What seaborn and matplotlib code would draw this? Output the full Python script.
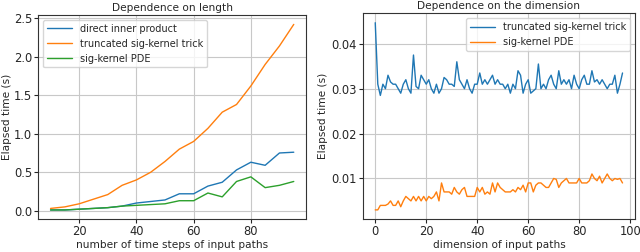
import numpy as np
import pandas as pd
import matplotlib.pyplot as plt
import seaborn as sns

# --- datos ---
steps = [10, 15, 20, 25, 30, 35, 40, 45, 50, 55, 60, 65, 70, 75, 80, 85, 90, 95]
t_direct = [0.01, 0.01, 0.02, 0.03, 0.04, 0.06, 0.10, 0.12, 0.14, 0.22, 0.22, 0.32,
            0.37, 0.53, 0.63, 0.59, 0.75, 0.76]
t_trunc_len = [0.03, 0.05, 0.09, 0.15, 0.21, 0.33, 0.40, 0.50, 0.64, 0.80, 0.90, 1.07,
               1.28, 1.38, 1.62, 1.90, 2.14, 2.42]
t_pde_len = [0.01, 0.01, 0.02, 0.03, 0.04, 0.06, 0.07, 0.08, 0.09, 0.13, 0.13, 0.23,
             0.18, 0.38, 0.44, 0.30, 0.33, 0.38]

dims = list(range(98))
t_trunc_dim = [0.0447, 0.031, 0.0285, 0.031, 0.030, 0.033, 0.0315, 0.031, 0.031, 0.030,
               0.029, 0.031, 0.032, 0.030, 0.029, 0.0375, 0.0305, 0.030, 0.033, 0.032,
               0.031, 0.032, 0.030, 0.029, 0.031, 0.029, 0.030, 0.0325, 0.032, 0.031,
               0.031, 0.0305, 0.036, 0.032, 0.031, 0.030, 0.032, 0.030, 0.029, 0.031,
               0.031, 0.0335, 0.031, 0.032, 0.031, 0.032, 0.033, 0.031, 0.032, 0.031,
               0.031, 0.030, 0.031, 0.029, 0.031, 0.030, 0.034, 0.033, 0.029, 0.031,
               0.032, 0.029, 0.0295, 0.030, 0.0355, 0.030, 0.031, 0.030, 0.032, 0.033,
               0.031, 0.030, 0.034, 0.031, 0.032, 0.031, 0.032, 0.030, 0.033, 0.031,
               0.030, 0.032, 0.033, 0.031, 0.031, 0.034, 0.0315, 0.032, 0.031, 0.032,
               0.031, 0.030, 0.031, 0.031, 0.033, 0.029, 0.031, 0.0335]
t_pde_dim = [0.003, 0.003, 0.004, 0.004, 0.004, 0.0043, 0.005, 0.004, 0.004, 0.005,
             0.0037, 0.005, 0.006, 0.0055, 0.005, 0.006, 0.005, 0.006, 0.005, 0.006,
             0.005, 0.006, 0.0055, 0.006, 0.007, 0.005, 0.009, 0.007, 0.007, 0.007,
             0.0065, 0.008, 0.007, 0.0065, 0.0075, 0.008, 0.006, 0.006, 0.006, 0.006,
             0.008, 0.007, 0.008, 0.0065, 0.007, 0.0065, 0.009, 0.007, 0.009, 0.008,
             0.0075, 0.007, 0.007, 0.007, 0.0075, 0.007, 0.008, 0.0075, 0.0085, 0.007,
             0.009, 0.009, 0.007, 0.0085, 0.009, 0.009, 0.0085, 0.008, 0.008, 0.009,
             0.010, 0.0098, 0.008, 0.009, 0.0095, 0.010, 0.009, 0.009, 0.009, 0.009,
             0.010, 0.009, 0.009, 0.009, 0.0095, 0.011, 0.010, 0.0095, 0.0105, 0.009,
             0.010, 0.011, 0.010, 0.0095, 0.010, 0.0098, 0.010, 0.009]

# --- estilo ---
sns.set_style('ticks', {
    'axes.grid': True,
    'grid.color': '#c8c8c8',
    'grid.linewidth': 0.6,
    'axes.edgecolor': '#333333',
})
plt.rcParams.update({
    'font.family': ['DejaVu Sans'],
    'font.size': 7.6,
    'axes.titlesize': 7.6,
    'axes.labelsize': 7.6,
    'xtick.labelsize': 8.3,
    'ytick.labelsize': 8.3,
    'legend.fontsize': 7,
    'axes.linewidth': 0.8,
})

c_blue = plt.cm.tab10(0)
c_orange = plt.cm.tab10(1)
c_green = plt.cm.tab10(2)

fig = plt.figure(figsize=(6.4, 2.52), dpi=100)
ax1 = fig.add_axes([0.060, 0.130, 0.418, 0.810])
ax2 = fig.add_axes([0.567, 0.130, 0.425, 0.817])

df_len = pd.DataFrame({'x': steps, 'direct': t_direct,
                       'trunc': t_trunc_len, 'pde': t_pde_len})
sns.lineplot(data=df_len, x='x', y='direct', ax=ax1, color=c_blue,
             lw=1.0, label='direct inner product')
sns.lineplot(data=df_len, x='x', y='trunc', ax=ax1, color=c_orange,
             lw=1.0, label='truncated sig-kernel trick')
sns.lineplot(data=df_len, x='x', y='pde', ax=ax1, color=c_green,
             lw=1.0, label='sig-kernel PDE')
ax1.set_title('Dependence on length', pad=3)
ax1.set_xlabel('number of time steps of input paths', labelpad=1)
ax1.set_ylabel('Elapsed time (s)', labelpad=1)
ax1.set_xticks([20, 40, 60, 80])
ax1.set_yticks([0.0, 0.5, 1.0, 1.5, 2.0, 2.5])
ax1.legend(loc='upper left', handlelength=2.6)

df_dim = pd.DataFrame({'x': dims, 'trunc': t_trunc_dim, 'pde': t_pde_dim})
sns.lineplot(data=df_dim, x='x', y='trunc', ax=ax2, color=c_blue,
             lw=1.0, label='truncated sig-kernel trick')
sns.lineplot(data=df_dim, x='x', y='pde', ax=ax2, color=c_orange,
             lw=1.0, label='sig-kernel PDE')
ax2.set_title('Dependence on the dimension', pad=3)
ax2.set_xlabel('dimension of input paths', labelpad=1)
ax2.set_ylabel('Elapsed time (s)', labelpad=2)
ax2.set_xticks([0, 20, 40, 60, 80, 100])
ax2.set_yticks([0.01, 0.02, 0.03, 0.04])
ax2.legend(loc='upper right', handlelength=2.6)

for ax in (ax1, ax2):
    ax.tick_params(length=3, pad=1.5)

fig.savefig('out.png', dpi=100, facecolor='white')
